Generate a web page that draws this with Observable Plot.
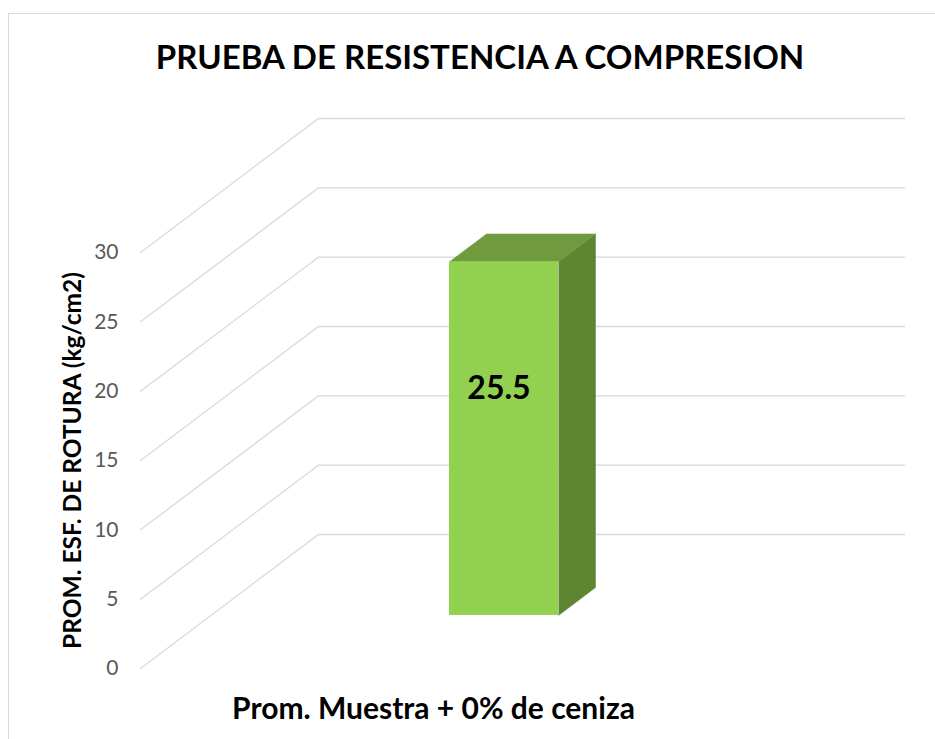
<!DOCTYPE html>
<html><head><meta charset="utf-8">
<script src="https://cdn.jsdelivr.net/npm/d3@7"></script>
<script src="https://cdn.jsdelivr.net/npm/@observablehq/plot@0.6"></script>
<style>
html,body{margin:0;padding:0;background:#fff;overflow:hidden}
#wrap{position:relative;width:935px;height:739px;overflow:hidden;font-family:Lato,sans-serif}
#frame{position:absolute;left:8px;top:13px;width:1000px;height:1000px;border:1.5px solid #d9d9d9;box-sizing:border-box}
#title{position:absolute;left:0;top:36px;width:960px;text-align:center;font-family:Lato,sans-serif;font-weight:700;font-size:33px;line-height:40px;color:#000;white-space:nowrap}
#chart{position:absolute;left:0;top:0}
</style></head><body>
<div id="wrap"><div id="frame"></div><div id="title"></div><div id="chart"></div></div>
<script>
// ---- data ----
const titleText = "PRUEBA DE RESISTENCIA A COMPRESION";
const yAxisLabel = "PROM. ESF. DE ROTURA (kg/cm2)";
const categories = ["Prom. Muestra + 0% de ceniza"];
const values = [25.5];
const yTicks = [0, 5, 10, 15, 20, 25, 30];

document.getElementById("title").textContent = titleText;

// ---- layout / projection ----
const W = 935, H = 739;
const mL = 140, mR = 209, mT = 252, mB = 71;
const yMax = 30;
const depthPx = {x: 178, y: 134};              // full wall depth in pixels
const DX = depthPx.x * categories.length / (W - mL - mR); // in x-domain units
const DY = depthPx.y * yMax / (H - mT - mB);               // in value units
const f0 = 0.396, f1 = 0.604;                  // bar front/back depth
const hw = 0.093;                              // half bar width (slot units)
const labelPos = 0.64;                         // label height as share of bar

const bars = categories.map((c, i) => ({c, v: values[i], xc: (i + 0.5)}));
const P = (x, y, f, id) => ({id, x: x + f * DX, y: y + f * DY});

const front = bars.map(b => ({
  x1: b.xc - hw + f0 * DX, x2: b.xc + hw + f0 * DX,
  y1: f0 * DY, y2: b.v + f0 * DY
}));
const topFace = bars.flatMap((b, i) => {
  const xl = b.xc - hw, xr = b.xc + hw;
  return [P(xl, b.v, f0, i), P(xl, b.v, f1, i), P(xr, b.v, f1, i), P(xr, b.v, f0, i)];
});
const sideFace = bars.flatMap((b, i) => {
  const xr = b.xc + hw;
  return [P(xr, 0, f0, i), P(xr, 0, f1, i), P(xr, b.v, f1, i), P(xr, b.v, f0, i)];
});

const backGrid = yTicks.flatMap(t => [P(0, t, 1, t), P(categories.length, t, 1, t)]);
const sideGrid = yTicks.flatMap(t => [P(0, t, 0, t), P(0, t, 1, t)]);

const grid = "#d9d9d9";

const chart = Plot.plot({
  width: W, height: H,
  marginLeft: mL, marginRight: mR, marginTop: mT, marginBottom: mB,
  style: {fontFamily: "Lato, sans-serif", background: "transparent", overflow: "visible"},
  x: {domain: [0, categories.length], axis: null},
  y: {domain: [0, yMax]},
  marks: [
    Plot.line(backGrid, {x: "x", y: "y", z: "id", stroke: grid, strokeWidth: 1.3}),
    Plot.line(sideGrid, {x: "x", y: "y", z: "id", stroke: grid, strokeWidth: 1.3}),
    Plot.axisY(yTicks, {tickSize: 0, tickPadding: 22, fontSize: 21, fill: "#595959", label: null}),
    Plot.line(sideFace, {x: "x", y: "y", z: "id", fill: "#5e8532", stroke: "#5e8532", strokeWidth: 0.5}),
    Plot.line(topFace, {x: "x", y: "y", z: "id", fill: "#6f9a3d", stroke: "#6f9a3d", strokeWidth: 0.5}),
    Plot.rect(front, {x1: "x1", x2: "x2", y1: "y1", y2: "y2", fill: "#92d050"}),
    Plot.text(bars, {x: b => b.xc + f0 * DX, y: b => b.v * labelPos + f0 * DY, text: b => String(b.v),
      dx: -5, fontSize: 32, fontWeight: "bold", fill: "#000"}),
    Plot.text([yAxisLabel], {frameAnchor: "left", text: d => d, rotate: -90, dx: -67,
      textAnchor: "middle", lineAnchor: "middle", fontSize: 24.5, fontWeight: "bold", fill: "#000"}),
    Plot.text(bars, {x: "xc", frameAnchor: "bottom", text: "c", dy: 41,
      textAnchor: "middle", lineAnchor: "middle", fontSize: 30, fontWeight: "bold", fill: "#000"})
  ]
});
document.getElementById("chart").appendChild(chart);
</script>
</body></html>
